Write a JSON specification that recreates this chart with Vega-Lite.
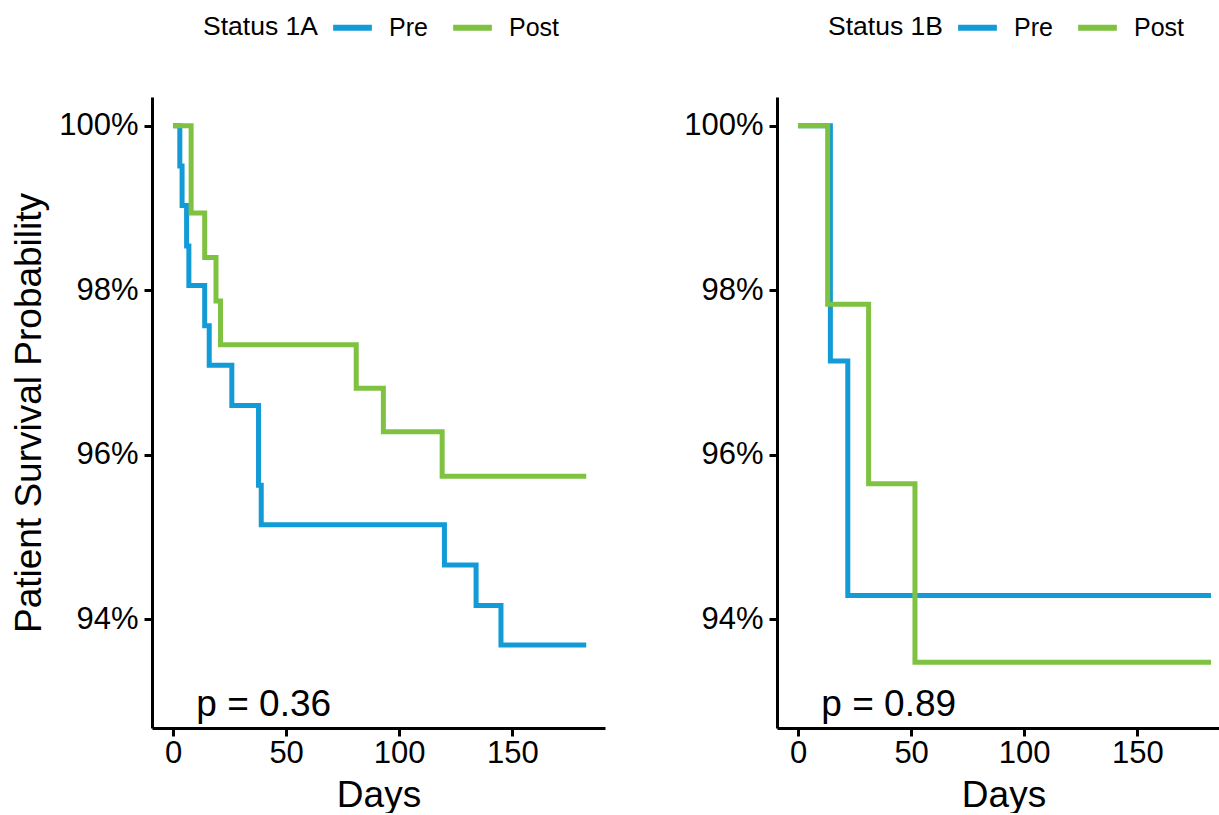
{
  "$schema": "https://vega.github.io/schema/vega-lite/v6.json",
  "padding": {"left": 10, "top": 5, "right": 0, "bottom": 0},
  "background": "white",
  "spacing": 78,
  "config": {
    "view": {"stroke": null},
    "font": "Liberation Sans",
    "axis": {"grid": false, "domainColor": "black", "domainWidth": 3, "tickColor": "black", "tickWidth": 3, "tickSize": 8, "labelFontSize": 31, "labelColor": "black", "titleFontSize": 37, "titleFontWeight": "normal", "titleColor": "black", "labelFont": "Liberation Sans", "titleFont": "Liberation Sans"},
    "legend": {"direction": "horizontal", "titleOrient": "left", "titleAnchor": "end", "titleBaseline": "bottom", "titleFontSize": 26.5, "titleFontWeight": "normal", "titleColor": "black", "labelFontSize": 25, "labelColor": "black", "symbolType": "stroke", "symbolSize": 1500, "symbolStrokeWidth": 6, "titlePadding": 12, "labelOffset": 14, "columnPadding": 13, "titleFont": "Liberation Sans", "labelFont": "Liberation Sans"}
  },
  "resolve": {"scale": {"color": "independent", "x": "independent", "y": "independent"}, "legend": {"color": "independent"}},
  "hconcat": [
    {
      "width": 453, "height": 631,
      "layer": [
        {
          "data": {"values": [
            {"group": "Pre", "day": 0, "surv": 1.0},
            {"group": "Pre", "day": 3, "surv": 0.9951},
            {"group": "Pre", "day": 4, "surv": 0.9903},
            {"group": "Pre", "day": 6, "surv": 0.9854},
            {"group": "Pre", "day": 7, "surv": 0.9806},
            {"group": "Pre", "day": 14, "surv": 0.9757},
            {"group": "Pre", "day": 16, "surv": 0.9709},
            {"group": "Pre", "day": 26, "surv": 0.9660},
            {"group": "Pre", "day": 37.8, "surv": 0.9563},
            {"group": "Pre", "day": 39, "surv": 0.9515},
            {"group": "Pre", "day": 120, "surv": 0.9466},
            {"group": "Pre", "day": 134, "surv": 0.9417},
            {"group": "Pre", "day": 145, "surv": 0.9369},
            {"group": "Pre", "day": 182.7, "surv": 0.9369},
            {"group": "Post", "day": 0, "surv": 1.0},
            {"group": "Post", "day": 8, "surv": 0.9894},
            {"group": "Post", "day": 14, "surv": 0.9840},
            {"group": "Post", "day": 19, "surv": 0.9787},
            {"group": "Post", "day": 21, "surv": 0.9734},
            {"group": "Post", "day": 81, "surv": 0.9681},
            {"group": "Post", "day": 93, "surv": 0.9628},
            {"group": "Post", "day": 119, "surv": 0.9574},
            {"group": "Post", "day": 182.7, "surv": 0.9574}
          ]},
          "mark": {"type": "line", "interpolate": "step-after", "strokeWidth": 5},
          "encoding": {
            "x": {"field": "day", "type": "quantitative", "scale": {"domain": [-9.3, 191], "nice": false, "zero": false}, "axis": {"values": [0, 50, 100, 150], "title": "Days", "labelPadding": 2, "titlePadding": 9}},
            "y": {"field": "surv", "type": "quantitative", "scale": {"domain": [0.9268, 1.0035], "nice": false, "zero": false}, "axis": {"values": [0.94, 0.96, 0.98, 1.0], "format": ".0%", "title": "Patient Survival Probability", "labelPadding": 6, "titlePadding": 10}},
            "color": {"field": "group", "type": "nominal", "scale": {"domain": ["Pre", "Post"], "range": ["#129BD7", "#7FC241"]}, "legend": {"title": "Status 1A", "orient": "none", "legendX": 51, "legendY": -92}}
          }
        },
        {
          "data": {"values": [{"day": 10.3, "surv": 0.9282, "label": "p = 0.36"}]},
          "mark": {"type": "text", "align": "left", "baseline": "alphabetic", "fontSize": 37, "color": "black"},
          "encoding": {
            "x": {"field": "day", "type": "quantitative"},
            "y": {"field": "surv", "type": "quantitative"},
            "text": {"field": "label"}
          }
        }
      ]
    },
    {
      "width": 453, "height": 631,
      "layer": [
        {
          "data": {"values": [
            {"group": "Pre", "day": 0, "surv": 1.0},
            {"group": "Pre", "day": 14.3, "surv": 0.9714},
            {"group": "Pre", "day": 22, "surv": 0.9429},
            {"group": "Pre", "day": 182.6, "surv": 0.9429},
            {"group": "Post", "day": 0, "surv": 1.0},
            {"group": "Post", "day": 13.1, "surv": 0.9783},
            {"group": "Post", "day": 31.2, "surv": 0.9565},
            {"group": "Post", "day": 51.7, "surv": 0.9348},
            {"group": "Post", "day": 182.6, "surv": 0.9348}
          ]},
          "mark": {"type": "line", "interpolate": "step-after", "strokeWidth": 5},
          "encoding": {
            "x": {"field": "day", "type": "quantitative", "scale": {"domain": [-9.3, 191], "nice": false, "zero": false}, "axis": {"values": [0, 50, 100, 150], "title": "Days", "labelPadding": 2, "titlePadding": 9}},
            "y": {"field": "surv", "type": "quantitative", "scale": {"domain": [0.9268, 1.0035], "nice": false, "zero": false}, "axis": {"values": [0.94, 0.96, 0.98, 1.0], "format": ".0%", "title": null, "labelPadding": 6}},
            "color": {"field": "group", "type": "nominal", "scale": {"domain": ["Pre", "Post"], "range": ["#129BD7", "#7FC241"]}, "legend": {"title": "Status 1B", "orient": "none", "legendX": 51, "legendY": -92}}
          }
        },
        {
          "data": {"values": [{"day": 10.3, "surv": 0.9282, "label": "p = 0.89"}]},
          "mark": {"type": "text", "align": "left", "baseline": "alphabetic", "fontSize": 37, "color": "black"},
          "encoding": {
            "x": {"field": "day", "type": "quantitative"},
            "y": {"field": "surv", "type": "quantitative"},
            "text": {"field": "label"}
          }
        }
      ]
    }
  ]
}
